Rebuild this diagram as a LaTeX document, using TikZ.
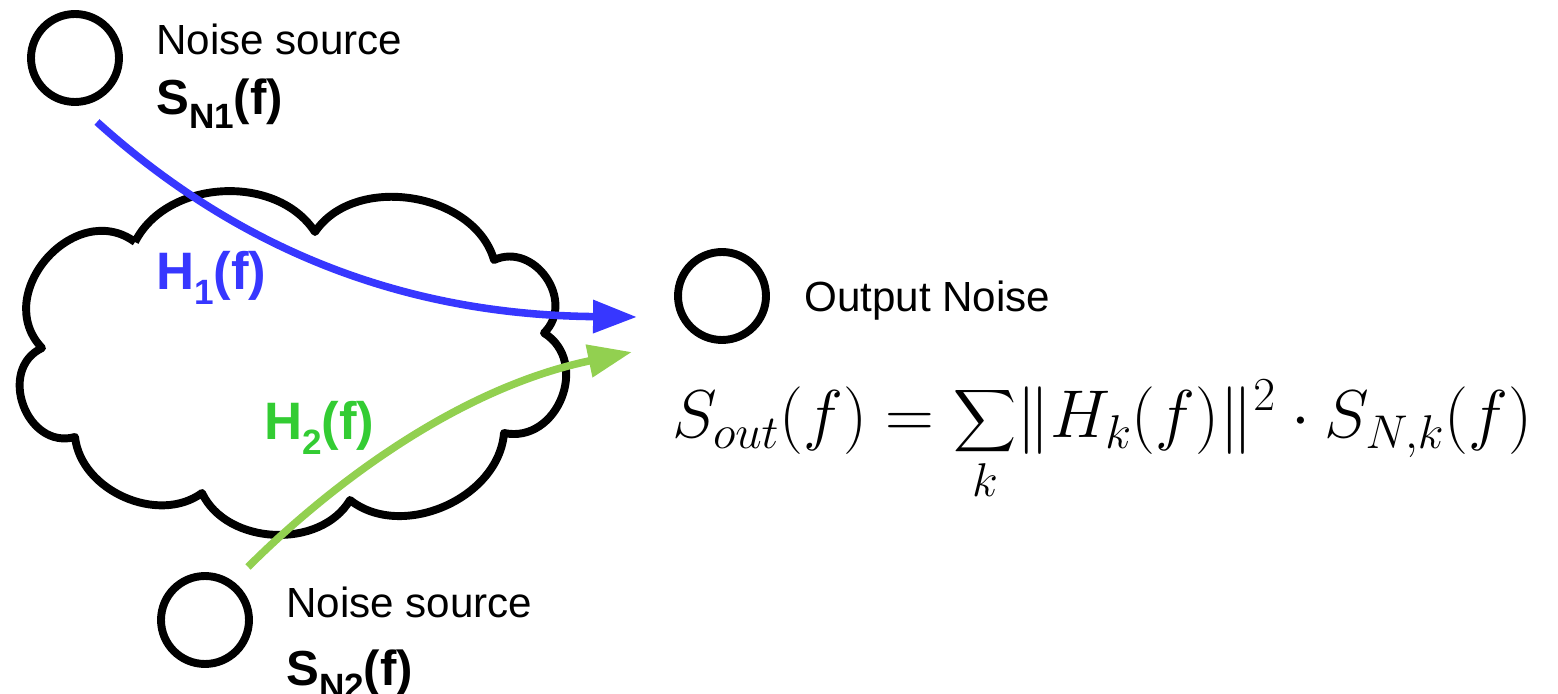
\RequirePackage{fix-cm}
\documentclass[tikz,border=0pt]{standalone}
\usepackage{exscale}
\usepackage{fontspec}
\usetikzlibrary{arrows.meta}
\newfontfamily\labelfont{Liberation Sans}
\definecolor{flowblue}{RGB}{55,55,255}
\definecolor{flowgreen}{RGB}{146,208,80}
\definecolor{textgreen}{RGB}{51,204,51}
\newcommand\lowpart[1]{\raisebox{-0.27em}{\fontsize{20}{24}\selectfont #1}}
\tikzset{
  source/.style={circle,draw,line width=4.5pt,inner sep=0pt,minimum size=1.76cm},
  plain/.style={anchor=base west,font=\labelfont\fontsize{24}{28}\selectfont},
  strong/.style={anchor=base west,font=\labelfont\bfseries\fontsize{28}{32}\selectfont},
  flow/.style={line width=4.3pt,-{Triangle[length=25pt,width=18pt]}},
}
\begin{document}
\begin{tikzpicture}[x=0.02cm,y=0.02cm]
\useasboundingbox (0,0) rectangle (1558,693);
\draw[line width=4.5pt,line join=round] (135,451) to[bend left=60] (315,461)
  to[bend left=65] (494,433) to[bend left=80,looseness=1.3] (544,360)
  to[bend left=80,looseness=1.3] (504,260) to[bend left=62] (350,193)
  to[bend left=62] (202,200) to[bend left=60] (75,256)
  to[bend left=85,looseness=1.35] (42,345) to[bend left=85,looseness=1.35] (135,451);
\node[source] (src1) at (75,635) {};
\node[source] (src2) at (205,73) {};
\node[source] (out) at (722,397) {};
\node[plain] (name1) at (150,638) {Noise source};
\node[strong] (spec1) at (150,578) {S\lowpart{N1}(f)};
\node[plain] (name2) at (280,75) {Noise source};
\node[strong] (spec2) at (280,8) {S\lowpart{N2}(f)};
\node[plain] (outname) at (798,381) {Output Noise};
\coordinate (from1) at (97,571);
\coordinate (to1) at (637,376);
\coordinate (from2) at (248,126);
\coordinate (to2) at (632,341);
\draw[flow,flowblue] (from1) .. controls (250,433) and (420,378) .. (to1);
\draw[flow,flowgreen] (from2) .. controls (320,198) and (450,303) .. (to2);
\node[strong,font=\labelfont\bfseries\fontsize{30}{34}\selectfont,text=flowblue] (h1) at (150,403) {H\lowpart{1}(f)};
\node[strong,font=\labelfont\bfseries\fontsize{30}{34}\selectfont,text=textgreen] (h2) at (258,253) {H\lowpart{2}(f)};
\node[anchor=base west,inner sep=0pt,font=\fontsize{38.5}{44}\selectfont] (sum) at (672,255)
  {$\displaystyle S_{out}(f)=\sum_k\!\|H_k(f)\|^2\cdot S_{N,k}(f)$};
\end{tikzpicture}
\end{document}
